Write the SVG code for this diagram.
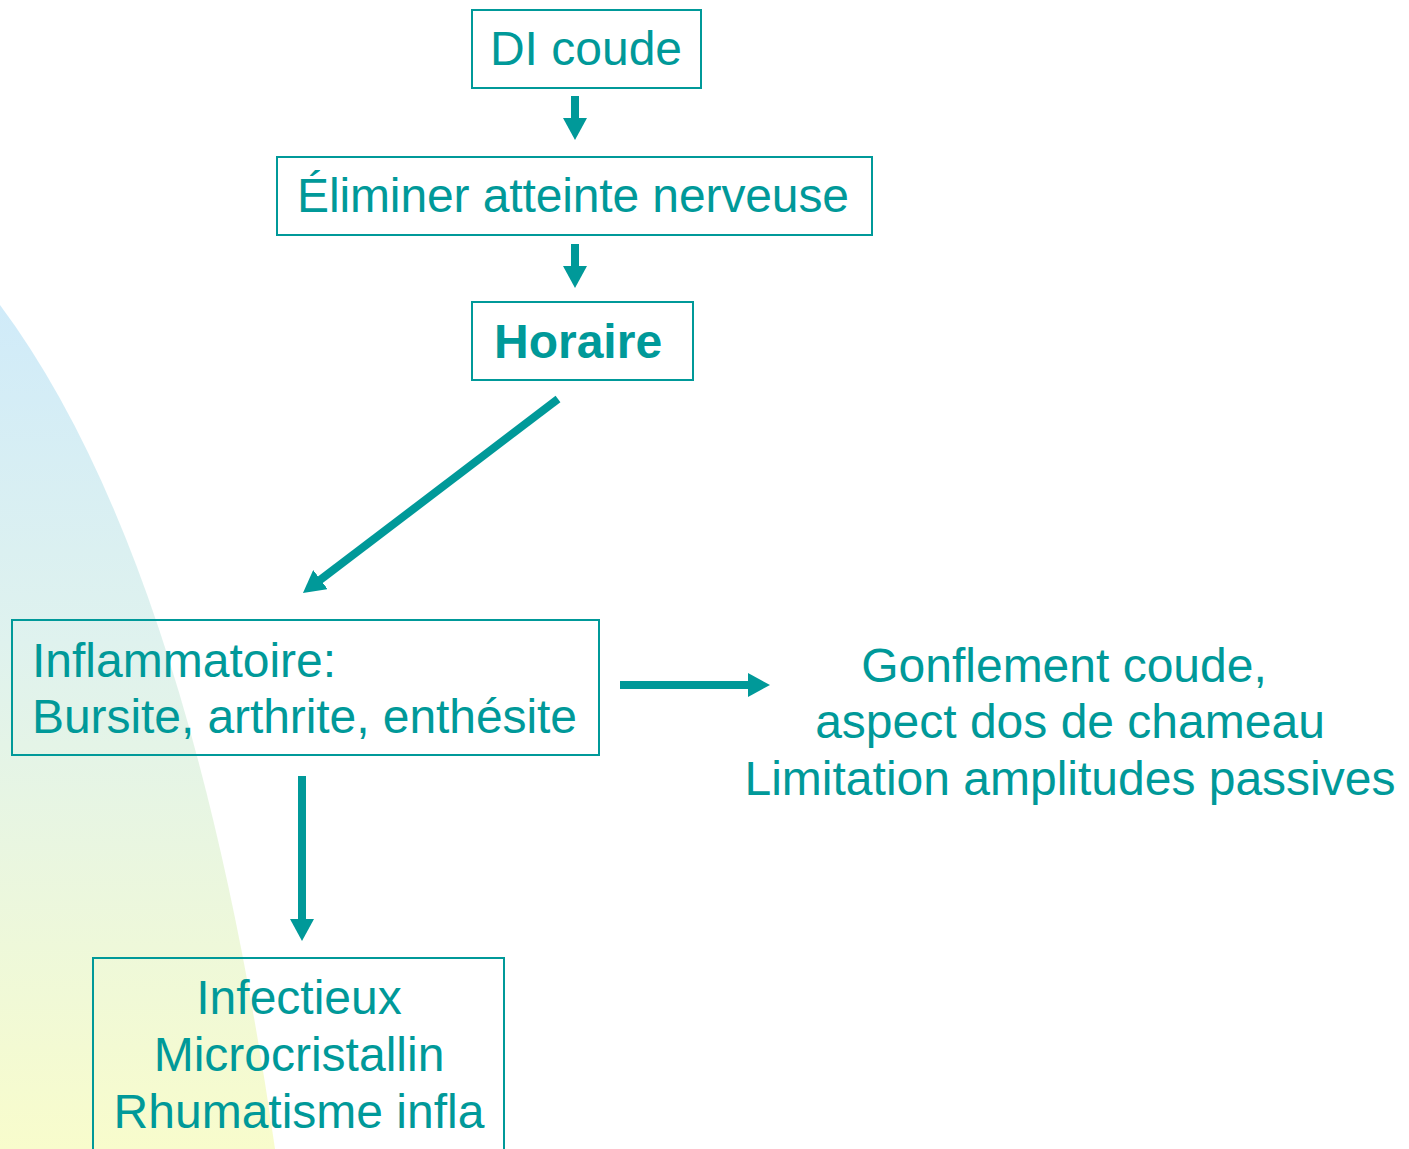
<svg xmlns="http://www.w3.org/2000/svg" width="1409" height="1149" viewBox="0 0 1409 1149">
  <defs>
    <linearGradient id="bg" x1="0" y1="305" x2="0" y2="1149" gradientUnits="userSpaceOnUse">
      <stop offset="0" stop-color="#d0ebf9"/>
      <stop offset="0.4" stop-color="#dff2ee"/>
      <stop offset="1" stop-color="#f8fccc"/>
    </linearGradient>
    <marker id="ah" viewBox="0 0 22 24" markerWidth="22" markerHeight="24" markerUnits="userSpaceOnUse" refX="6" refY="12" orient="auto">
      <path d="M0,0 L22,12 L0,24 Z" fill="#009999"/>
    </marker>
    <style>
      .box { fill: none; stroke: #009999; stroke-width: 2; }
      .t { font-family: "Liberation Sans", Arial, sans-serif; fill: #009999; font-size: 48px; }
      .c { text-anchor: middle; }
      .b { font-weight: bold; }
      .conn { stroke: #009999; stroke-width: 8; fill: none; marker-end: url(#ah); }
    </style>
  </defs>
  <rect width="1409" height="1149" fill="#ffffff"/>
  <path d="M0,305 Q190,560 275,1149 L0,1149 Z" fill="url(#bg)"/>

  <g id="n-di-coude">
    <rect class="box" x="472" y="10" width="229" height="78"/>
    <text class="t c" x="586" y="65" font-size="46">DI coude</text>
  </g>
  <g id="n-eliminer">
    <rect class="box" x="277" y="157" width="595" height="78"/>
    <text class="t c" x="573" y="212" textLength="552">Éliminer atteinte nerveuse</text>
  </g>
  <g id="n-horaire">
    <rect class="box" x="472" y="302" width="221" height="78"/>
    <text class="t b" x="494" y="358" font-size="47">Horaire</text>
  </g>
  <g id="n-inflammatoire">
    <rect class="box" x="12" y="620" width="587" height="135"/>
    <text class="t" x="32" y="677">Inflammatoire:</text>
    <text class="t" x="32" y="733" textLength="545">Bursite, arthrite, enthésite</text>
  </g>
  <g id="n-gonflement">
    <text class="t c" x="1064" y="682">Gonflement coude,</text>
    <text class="t c" x="1070" y="738">aspect dos de chameau</text>
    <text class="t c" x="1070" y="795">Limitation amplitudes passives</text>
  </g>
  <g id="n-infectieux">
    <rect class="box" x="93" y="958" width="411" height="200"/>
    <text class="t c" x="299" y="1014">Infectieux</text>
    <text class="t c" x="299" y="1071">Microcristallin</text>
    <text class="t c" x="299" y="1128">Rhumatisme infla</text>
  </g>

  <g id="connectors">
    <line class="conn" x1="575" y1="96" x2="575" y2="124"/>
    <line class="conn" x1="575" y1="244" x2="575" y2="272"/>
    <line class="conn" x1="558" y1="399" x2="315.7" y2="583.3"/>
    <line class="conn" x1="620" y1="685" x2="754" y2="685"/>
    <line class="conn" x1="302" y1="776" x2="302" y2="925"/>
  </g>
</svg>
